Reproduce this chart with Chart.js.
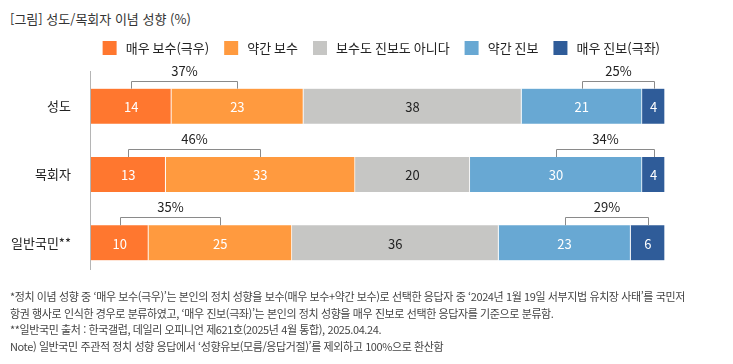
<!DOCTYPE html>
<html lang="ko">
<head>
<meta charset="utf-8">
<script src="https://cdn.jsdelivr.net/npm/chart.js@4/dist/chart.umd.min.js"></script>
<style>
  html, body { margin: 0; padding: 0; background: #fff; }
  #wrap { position: relative; width: 733px; height: 364px; overflow: hidden; font-family: "Noto Sans CJK KR", sans-serif; }
  #chart { position: absolute; left: 0; top: 0; }
  .title { position: absolute; left: 10px; top: 9px; font-size: 13px; line-height: 20px; color: #333; white-space: nowrap; }
  .notes { position: absolute; left: 10px; top: 288px; font-size: 11px; line-height: 16.7px; color: #444; letter-spacing: -0.4px; white-space: nowrap; }
</style>
</head>
<body>
<div id="wrap">
  <div class="title">[그림] 성도/목회자 이념 성향 (%)</div>
  <canvas id="chart" width="733" height="364"></canvas>
  <div class="notes">
    <div>*정치 이념 성향 중 ‘매우 보수(극우)’는 본인의 정치 성향을 보수(매우 보수+약간 보수)로 선택한 응답자 중 ‘2024년 1월 19일 서부지법 유치장 사태’를 국민저</div>
    <div>항권 행사로 인식한 경우로 분류하였고, ‘매우 진보(극좌)’는 본인의 정치 성향을 매우 진보로 선택한 응답자를 기준으로 분류함.</div>
    <div>**일반국민 출처 : 한국갤럽, 데일리 오피니언 제621호(2025년 4월 통합), 2025.04.24.</div>
    <div>Note) 일반국민 주관적 정치 성향 응답에서 ‘성향유보(모름/응답거절)’를 제외하고 100%으로 환산함</div>
  </div>
</div>
<script>
const categories = ['성도', '목회자', '일반국민**'];
const seriesNames = ['매우 보수(극우)', '약간 보수', '보수도 진보도 아니다', '약간 진보', '매우 진보(극좌)'];
const veryConservative = [14, 13, 10];
const slightlyConservative = [23, 33, 25];
const neutral = [38, 20, 36];
const slightlyProgressive = [21, 30, 23];
const veryProgressive = [4, 4, 6];
const seriesColors = ['#ff772f', '#ff9a3f', '#c6c6c4', '#68a8d3', '#2f5c99'];
const labelColors = ['#fff', '#fff', '#222', '#fff', '#fff'];

const FONT = '"Noto Sans CJK KR", sans-serif';

const series = [veryConservative, slightlyConservative, neutral, slightlyProgressive, veryProgressive];

// value labels in the middle of each segment
const segmentLabels = {
  id: 'segmentLabels',
  afterDatasetsDraw(chart) {
    const ctx = chart.ctx;
    ctx.save();
    ctx.font = '13px ' + FONT;
    ctx.textAlign = 'center';
    ctx.textBaseline = 'middle';
    chart.data.datasets.forEach((ds, di) => {
      chart.getDatasetMeta(di).data.forEach((bar, i) => {
        ctx.fillStyle = labelColors[di];
        ctx.fillText(ds.data[i], (bar.x + bar.base) / 2, bar.y + 1);
      });
    });
    ctx.restore();
  }
};

// brackets joining the two conservative and the two progressive segments
const brackets = {
  id: 'brackets',
  afterDatasetsDraw(chart) {
    const ctx = chart.ctx;
    const pairs = [[0, 1], [3, 4]];
    ctx.save();
    ctx.strokeStyle = '#8a8a8a';
    ctx.lineWidth = 1;
    ctx.font = '13px ' + FONT;
    ctx.textAlign = 'center';
    ctx.textBaseline = 'middle';
    ctx.fillStyle = '#222';
    categories.forEach((c, i) => {
      pairs.forEach(([a, b]) => {
        const ea = chart.getDatasetMeta(a).data[i];
        const eb = chart.getDatasetMeta(b).data[i];
        const x1 = Math.round((ea.x + ea.base) / 2) + 0.5;
        const x2 = Math.round((eb.x + eb.base) / 2) + 0.5;
        const top = ea.y - ea.height / 2;
        const y = Math.round(top - 8) + 0.5;
        ctx.beginPath();
        ctx.moveTo(x1, top);
        ctx.lineTo(x1, y);
        ctx.lineTo(x2, y);
        ctx.lineTo(x2, top);
        ctx.stroke();
        const sum = series[a][i] + series[b][i];
        ctx.fillText(sum + '%', (x1 + x2) / 2, y - 10);
      });
    });
    ctx.restore();
  }
};

// thin category axis line on the left
const axisLine = {
  id: 'axisLine',
  beforeDatasetsDraw(chart) {
    const {ctx, chartArea} = chart;
    ctx.save();
    ctx.strokeStyle = '#b5b5b5';
    ctx.lineWidth = 1;
    ctx.beginPath();
    ctx.moveTo(chartArea.left - 0.5, chartArea.top - 1);
    ctx.lineTo(chartArea.left - 0.5, chartArea.bottom - 7);
    ctx.stroke();
    ctx.restore();
  }
};

new Chart(document.getElementById('chart').getContext('2d'), {
  type: 'bar',
  data: {
    labels: categories,
    datasets: series.map((values, i) => ({
      label: seriesNames[i],
      data: values,
      backgroundColor: seriesColors[i],
      borderColor: 'rgba(255,255,255,0.85)',
      borderWidth: {top: 0, bottom: 0, left: 0, right: 1},
      borderSkipped: false,
      barThickness: 35
    }))
  },
  options: {
    indexAxis: 'y',
    responsive: false,
    animation: false,
    layout: { padding: { top: 26, bottom: 87, left: 0, right: 58 } },
    scales: {
      x: {
        stacked: true,
        min: 0,
        max: 100,
        position: 'top',
        grid: { display: false, drawTicks: false },
        border: { display: false },
        ticks: { display: false },
        afterFit(scale) { scale.height = 7; }
      },
      y: {
        stacked: true,
        grid: { display: false, drawTicks: false },
        border: { display: false },
        ticks: { color: '#222', padding: 20, font: { family: FONT, size: 13 } },
        afterFit(scale) { scale.width = 91; }
      },
      y2: {
        type: 'category',
        labels: categories,
        position: 'right',
        grid: { display: false, drawTicks: false },
        border: { display: false },
        ticks: { display: false },
        afterFit(scale) { scale.width = 10; }
      }
    },
    plugins: {
      legend: {
        position: 'top',
        align: 'end',
        labels: {
          boxWidth: 14,
          boxHeight: 14,
          padding: 15,
          color: '#222',
          font: { family: FONT, size: 13 },
          generateLabels(chart) {
            return Chart.defaults.plugins.legend.labels.generateLabels(chart)
              .map(item => ({ ...item, text: '\u2009' + item.text, lineWidth: 0 }));
          }
        }
      },
      tooltip: { enabled: false },
      title: { display: false }
    }
  },
  plugins: [axisLine, segmentLabels, brackets]
});
</script>
</body>
</html>
